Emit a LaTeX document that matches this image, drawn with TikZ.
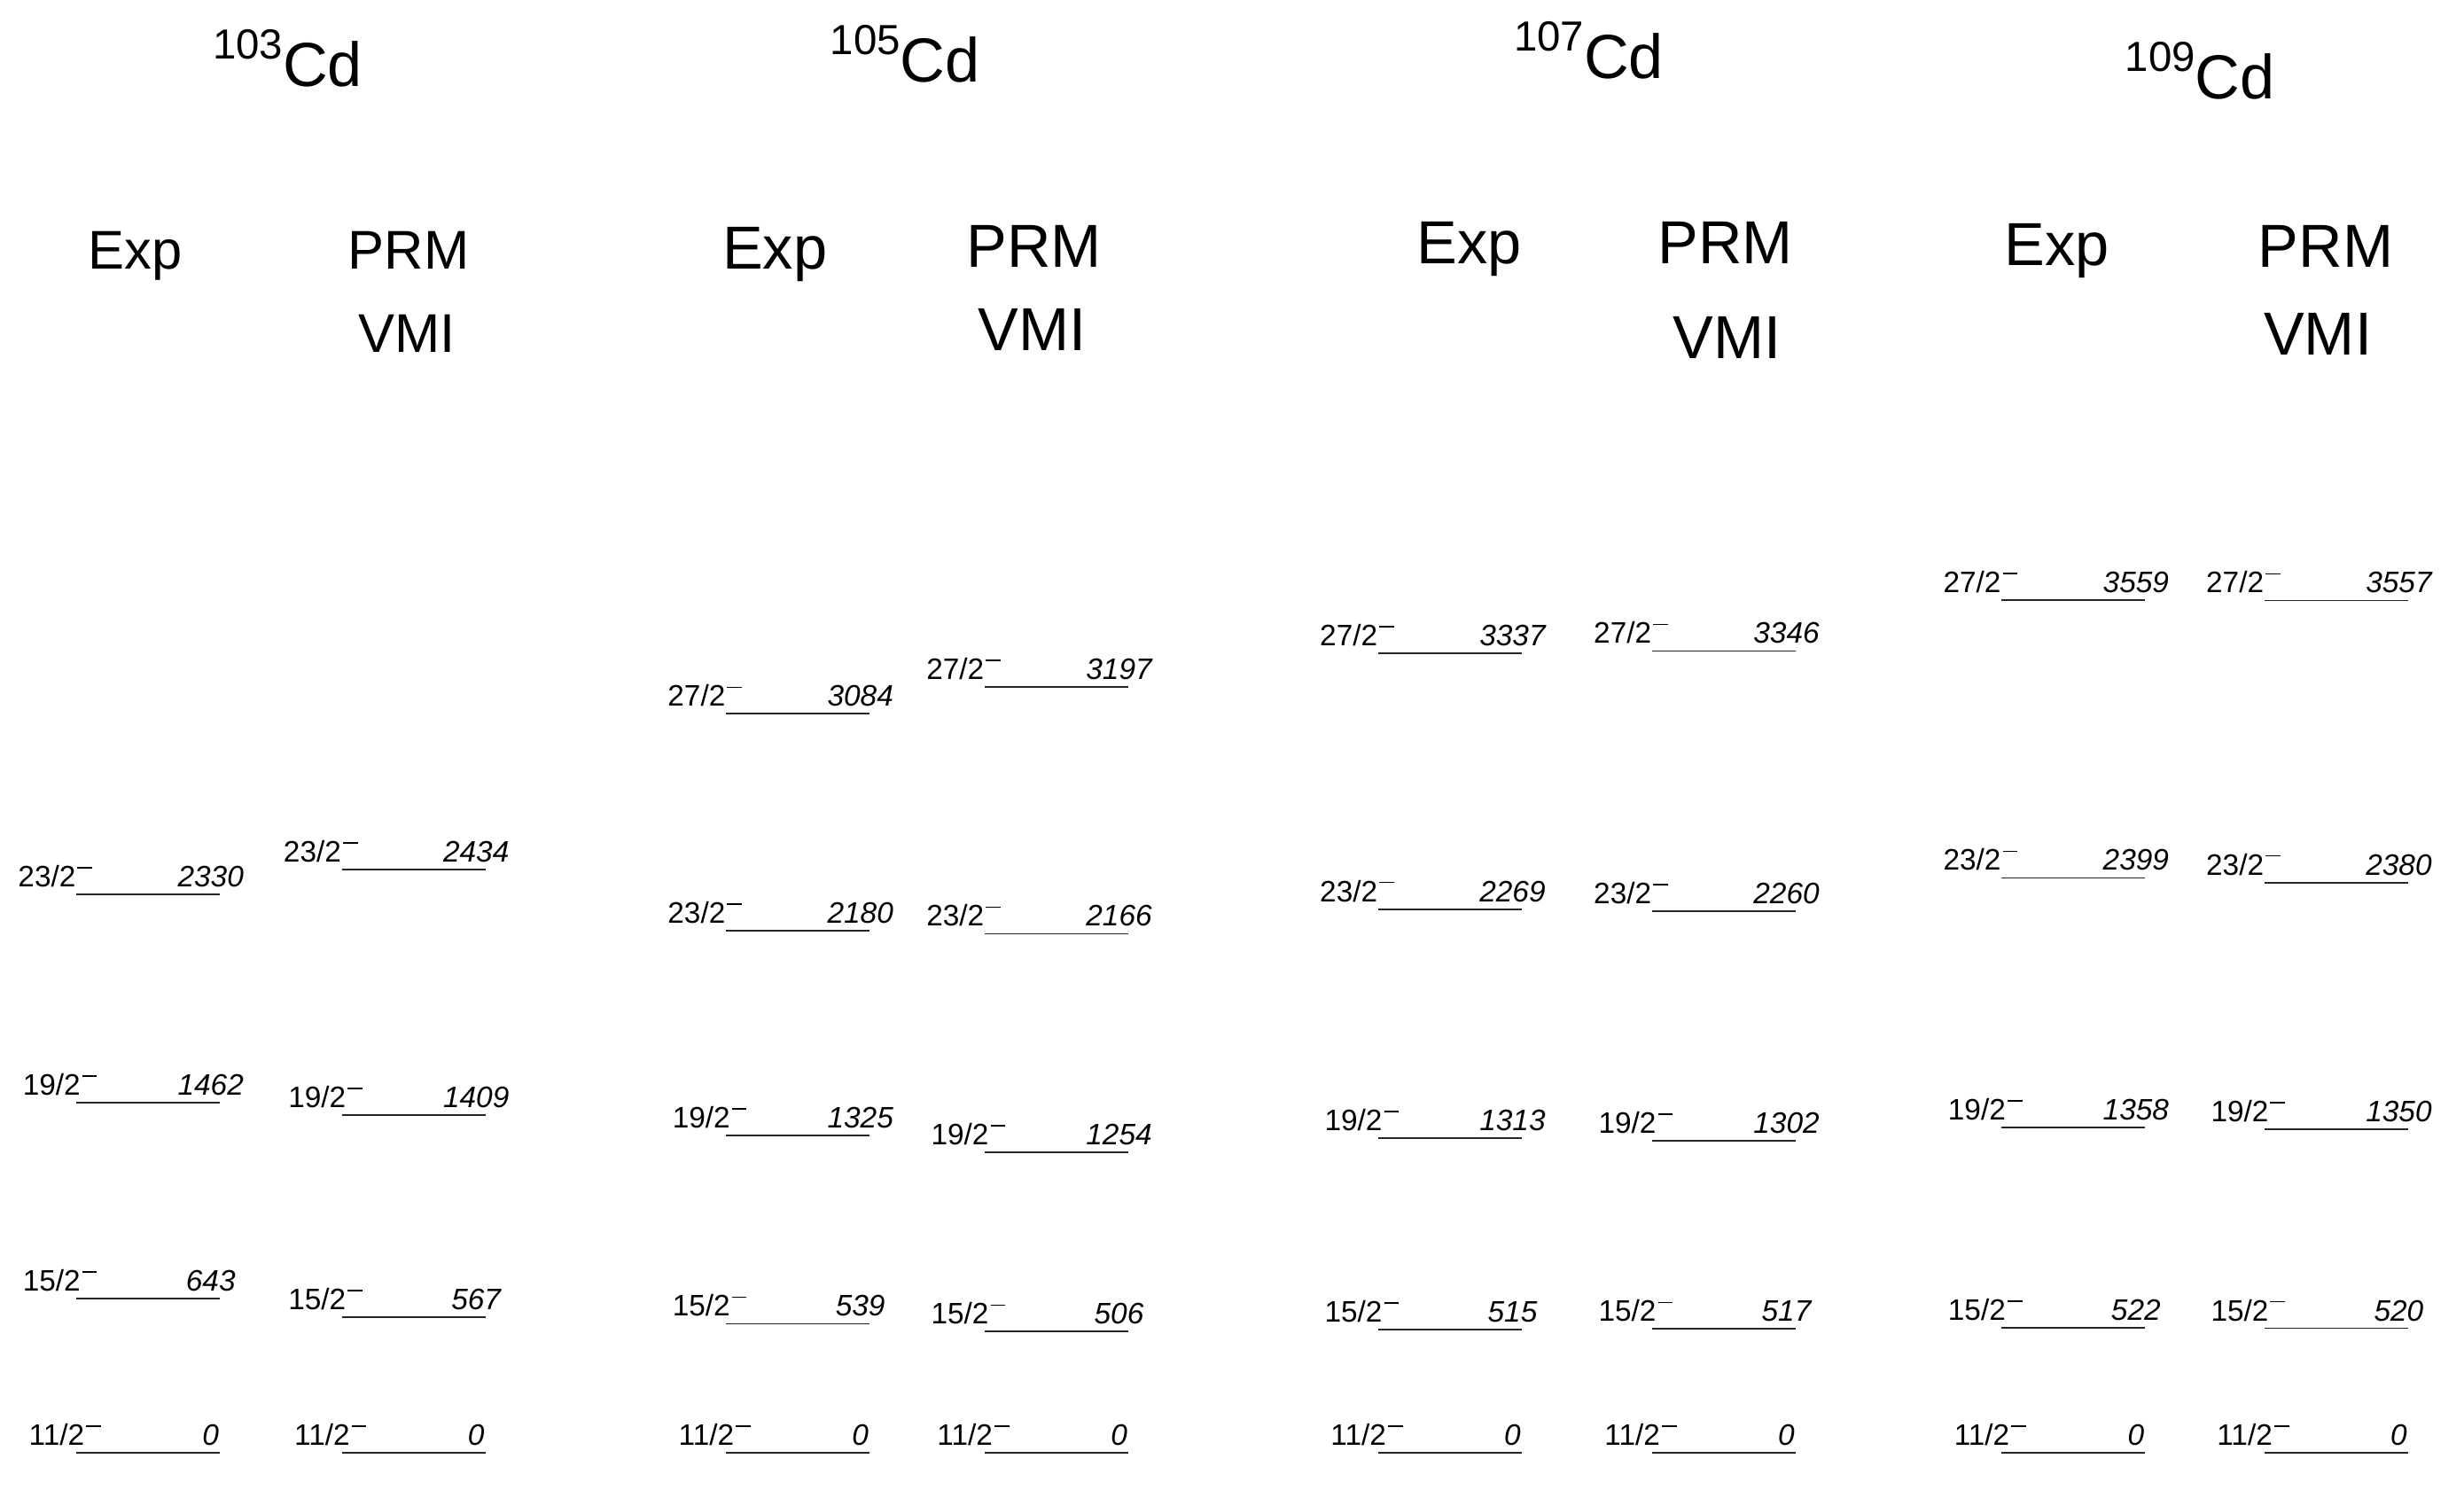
\documentclass[tikz,border=0pt]{standalone}
\usepackage{fontspec}
\setmainfont{Liberation Sans}
\usetikzlibrary{calc}
\tikzset{
  levelline/.style={line width=0.5pt, black!85},
  spinlab/.style={anchor=base east, inner sep=0pt, font=\fontsize{9.5}{10}\selectfont},
  enlab/.style={anchor=base, inner sep=0pt, font=\fontsize{9.5}{10}\selectfont\itshape},
  head/.style={anchor=base, inner sep=0pt, font=\fontsize{19.5}{20}\selectfont},
  headsmall/.style={anchor=base, inner sep=0pt, font=\fontsize{17.5}{18}\selectfont},
  ttl/.style={anchor=base west, inner sep=0pt, font=\fontsize{20}{22}\selectfont},
}
\newcommand{\mns}{\rlap{\hspace{0.06em}\raisebox{0.62em}{\rule{0.5em}{0.45pt}}}}
\newcommand{\sups}[1]{\raisebox{0.44em}{\fontsize{13.5}{14}\selectfont #1}}
% #1 name, #2 x start, #3 energy, #4 spin, #5 x shift of spin label
\newcommand{\lvl}[5]{%
  \pgfmathsetmacro{\ly}{924.5-0.1525*#3}%
  \coordinate (#1a) at (#2,\ly);
  \coordinate (#1b) at (#2+91.5,\ly);
  \draw[levelline] (#1a) -- (#1b);
  \node[spinlab] (#1s) at ($(#1a)+(#5,-4.8)$) {#4\mns};
  \node[enlab] (#1e) at ($(#1b)+(-6,-4.8)$) {#3};
}
\begin{document}
\begin{tikzpicture}[x=0.01773cm,y=-0.01773cm]
\useasboundingbox (0,0) rectangle (1568,948);

% titles
\node[ttl] (t103) at (135,55) {\sups{103}Cd};
\node[ttl] (t105) at (528,52) {\sups{105}Cd};
\node[ttl] (t107) at (963,50) {\sups{107}Cd};
\node[ttl] (t109) at (1352,63) {\sups{109}Cd};

% headers
\node[headsmall] (h103e) at (86,171) {Exp};
\node[headsmall] (h103p) at (260,171) {PRM};
\node[headsmall] (h103v) at (259,224) {VMI};
\node[head] (h105e) at (493,171) {Exp};
\node[head] (h105p) at (658,170) {PRM};
\node[head] (h105v) at (657,223) {VMI};
\node[head] (h107e) at (935,168) {Exp};
\node[head] (h107p) at (1098,168) {PRM};
\node[head] (h107v) at (1099,228) {VMI};
\node[head] (h109e) at (1309,169) {Exp};
\node[head] (h109p) at (1480,170) {PRM};
\node[head] (h109v) at (1475,226) {VMI};

% 103Cd Exp
\lvl{aea}{48.6}{0}{11/2}{5.5}
\lvl{aeb}{48.6}{643}{15/2}{3}
\lvl{aec}{48.6}{1462}{19/2}{3}
\lvl{aed}{48.6}{2330}{23/2}{0}
% 103Cd PRM
\lvl{apa}{217.5}{0}{11/2}{5.5}
\lvl{apb}{217.5}{567}{15/2}{3}
\lvl{apc}{217.5}{1409}{19/2}{3}
\lvl{apd}{217.5}{2434}{23/2}{0}
% 105Cd Exp
\lvl{bea}{462}{0}{11/2}{5.5}
\lvl{beb}{462}{539}{15/2}{3}
\lvl{bec}{462}{1325}{19/2}{3}
\lvl{bed}{462}{2180}{23/2}{0}
\lvl{bee}{462}{3084}{27/2}{0}
% 105Cd PRM
\lvl{bpa}{626.6}{0}{11/2}{5.5}
\lvl{bpb}{626.6}{506}{15/2}{3}
\lvl{bpc}{626.6}{1254}{19/2}{3}
\lvl{bpd}{626.6}{2166}{23/2}{0}
\lvl{bpe}{626.6}{3197}{27/2}{0}
% 107Cd Exp
\lvl{cea}{877}{0}{11/2}{5.5}
\lvl{ceb}{877}{515}{15/2}{3}
\lvl{cec}{877}{1313}{19/2}{3}
\lvl{ced}{877}{2269}{23/2}{0}
\lvl{cee}{877}{3337}{27/2}{0}
% 107Cd PRM
\lvl{cpa}{1051.3}{0}{11/2}{5.5}
\lvl{cpb}{1051.3}{517}{15/2}{3}
\lvl{cpc}{1051.3}{1302}{19/2}{3}
\lvl{cpd}{1051.3}{2260}{23/2}{0}
\lvl{cpe}{1051.3}{3346}{27/2}{0}
% 109Cd Exp
\lvl{dea}{1273.7}{0}{11/2}{5.5}
\lvl{deb}{1273.7}{522}{15/2}{3}
\lvl{dec}{1273.7}{1358}{19/2}{3}
\lvl{ded}{1273.7}{2399}{23/2}{0}
\lvl{dee}{1273.7}{3559}{27/2}{0}
% 109Cd PRM
\lvl{dpa}{1441}{0}{11/2}{5.5}
\lvl{dpb}{1441}{520}{15/2}{3}
\lvl{dpc}{1441}{1350}{19/2}{3}
\lvl{dpd}{1441}{2380}{23/2}{0}
\lvl{dpe}{1441}{3557}{27/2}{0}
\end{tikzpicture}
\end{document}
